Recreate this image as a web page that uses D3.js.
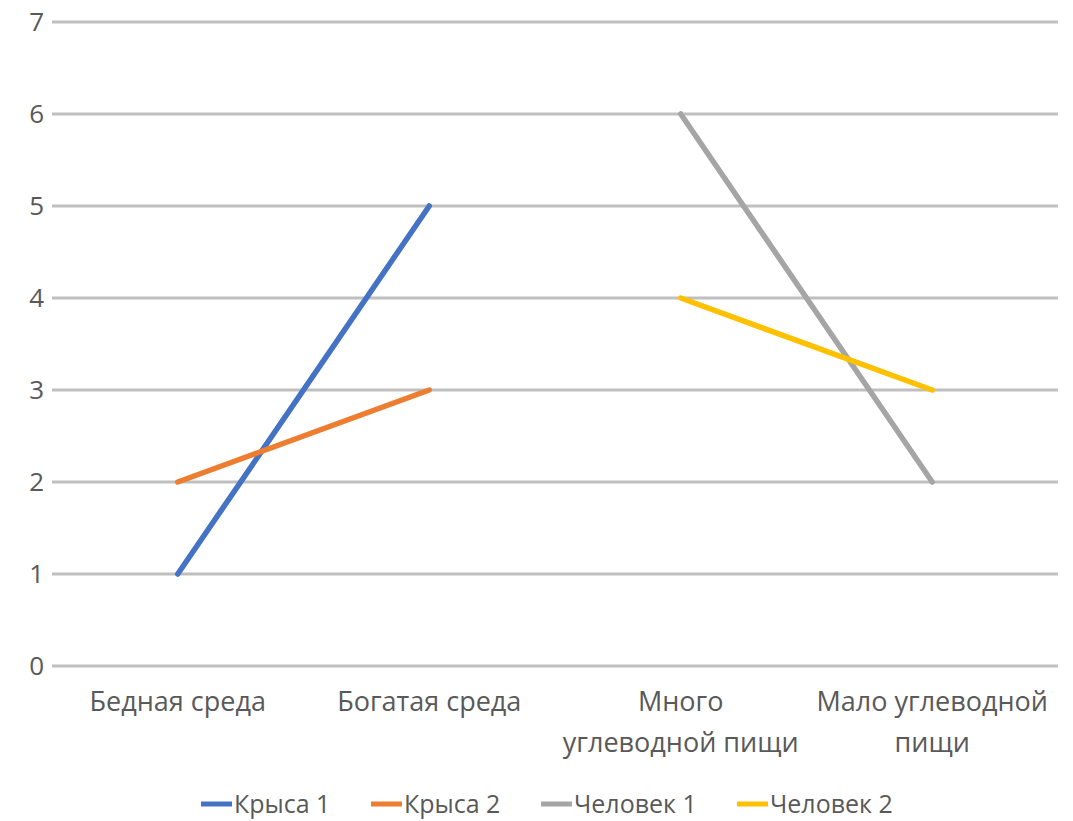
<!DOCTYPE html>
<html>
<head>
<meta charset="utf-8">
<script src="https://cdn.jsdelivr.net/npm/d3@7"></script>
<style>
  body { margin: 0; background: #fff; }
  text { font-family: "Open Sans", "Noto Sans", sans-serif; fill: #595959; }
</style>
</head>
<body>
<div id="chart"></div>
<script>
// categories (x axis), two-line labels
var categories = ["Бедная среда", "Богатая среда", "Много углеводной пищи", "Мало углеводной пищи"];
var categoryLines = [["Бедная среда"], ["Богатая среда"], ["Много", "углеводной пищи"], ["Мало углеводной", "пищи"]];

var seriesNames = ["Крыса 1", "Крыса 2", "Человек 1", "Человек 2"];
var rat1 = [1, 5, null, null];
var rat2 = [2, 3, null, null];
var human1 = [null, null, 6, 2];
var human2 = [null, null, 4, 3];
var colors = ["#4472C4", "#ED7D31", "#A5A5A5", "#FFC000"];
var yTicks = [0, 1, 2, 3, 4, 5, 6, 7];

var W = 1073, H = 821;
var margin = {top: 22, right: 15, bottom: 155, left: 52};
var width = W - margin.left - margin.right,
    height = H - margin.top - margin.bottom;

var svg = d3.select("#chart").append("svg")
    .attr("width", W)
    .attr("height", H)
  .append("g")
    .attr("transform", "translate(" + margin.left + "," + margin.top + ")");

var x = d3.scaleBand().domain(categories).range([0, width]);
var y = d3.scaleLinear().domain([0, 7]).range([height, 0]);

// gridlines
svg.selectAll("line.grid")
    .data(yTicks)
  .enter().append("line")
    .attr("class", "grid")
    .attr("x1", 0)
    .attr("x2", width)
    .attr("y1", function(d) { return y(d); })
    .attr("y2", function(d) { return y(d); })
    .style("stroke", "#bfbfbf")
    .style("stroke-width", 3);

// y tick labels
svg.selectAll("text.ytick")
    .data(yTicks)
  .enter().append("text")
    .attr("class", "ytick")
    .attr("x", -8)
    .attr("y", function(d) { return y(d); })
    .attr("dy", "0.36em")
    .attr("text-anchor", "end")
    .style("font-size", "26px")
    .text(function(d) { return d; });

// x category labels
var cat = svg.selectAll("text.xcat")
    .data(categories)
  .enter().append("text")
    .attr("class", "xcat")
    .attr("x", function(d) { return x(d) + x.bandwidth() / 2; })
    .attr("y", height + 45)
    .attr("text-anchor", "middle")
    .style("font-size", "27px");

cat.selectAll("tspan")
    .data(function(d, i) { return categoryLines[i]; })
  .enter().append("tspan")
    .attr("x", function() { return d3.select(this.parentNode).attr("x"); })
    .attr("dy", function(d, i) { return i === 0 ? 0 : 41; })
    .text(function(d) { return d; });

// lines
var allSeries = [rat1, rat2, human1, human2];
var line = d3.line()
    .defined(function(d) { return d != null; })
    .x(function(d, i) { return x(categories[i]) + x.bandwidth() / 2; })
    .y(function(d) { return y(d); });

svg.selectAll("path.series")
    .data(allSeries)
  .enter().append("path")
    .attr("class", "series")
    .attr("d", line)
    .style("fill", "none")
    .style("stroke", function(d, i) { return colors[i]; })
    .style("stroke-width", 5.5)
    .style("stroke-linecap", "round");

// legend
var legendX = [201, 371, 541, 737];
var legend = svg.selectAll("g.legend")
    .data(seriesNames)
  .enter().append("g")
    .attr("class", "legend")
    .attr("transform", function(d, i) {
        return "translate(" + (legendX[i] - margin.left) + "," + (804 - margin.top) + ")";
    });

legend.append("line")
    .attr("x1", 0).attr("x2", 31)
    .attr("y1", 0).attr("y2", 0)
    .style("stroke", function(d, i) { return colors[i]; })
    .style("stroke-width", 5);

legend.append("text")
    .attr("x", 33)
    .attr("y", 9)
    .style("font-size", "25px")
    .text(function(d) { return d; });
</script>
</body>
</html>
